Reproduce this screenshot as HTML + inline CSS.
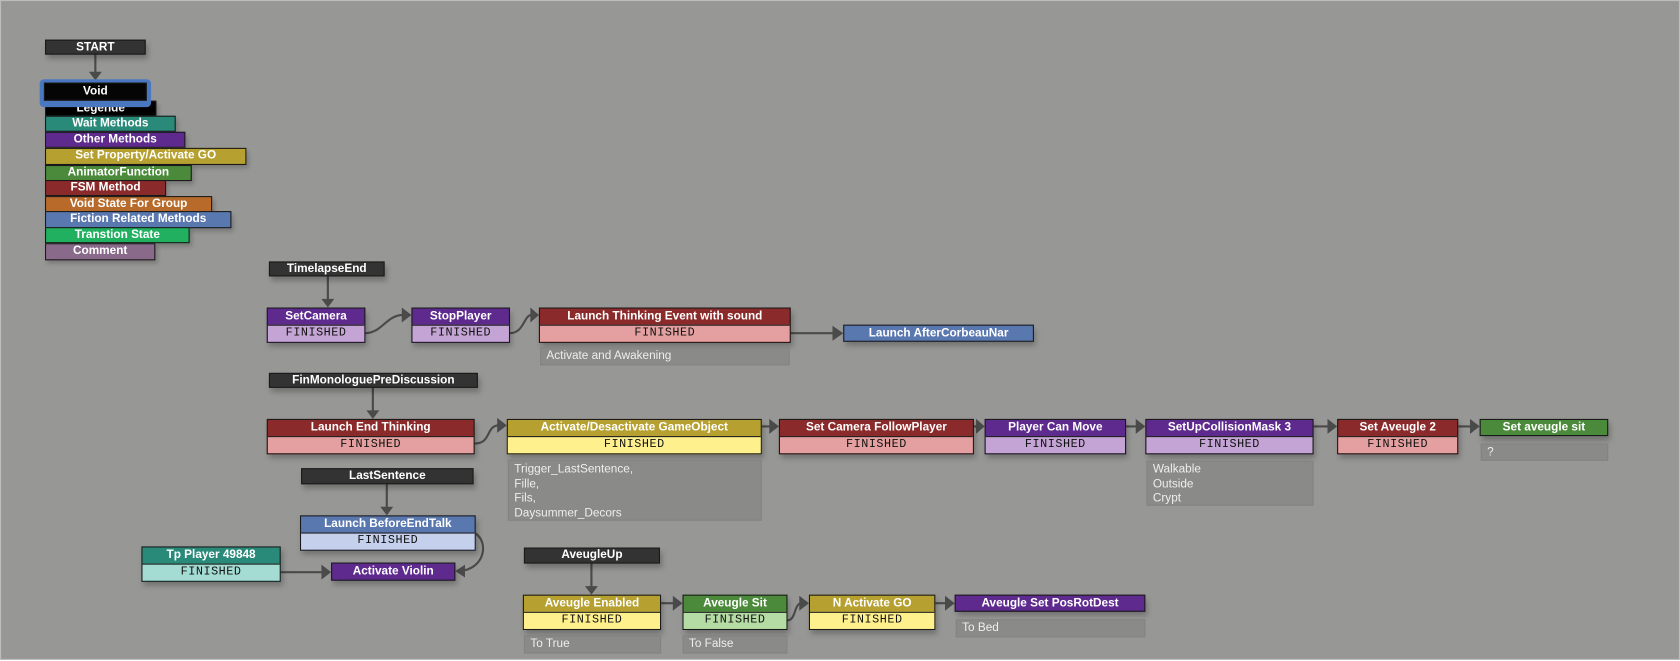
<!DOCTYPE html>
<html><head><meta charset="utf-8"><style>
html,body{margin:0;padding:0;width:1680px;height:660px;overflow:hidden;background:#fff;}
#wrap{position:absolute;left:0;top:0;width:1568px;height:616px;transform:scale(1.07143);transform-origin:0 0;background:#979795;border:1px solid #bdbdbb;box-sizing:border-box;}
.n{position:absolute;font-family:"Liberation Sans",sans-serif;font-weight:bold;font-size:11px;color:#fff;text-align:center;box-sizing:border-box;border:1px solid #1a1a1a;line-height:13px;box-shadow:2px 4px 5px rgba(0,0,0,0.25);}
.t{height:15px;line-height:14px;}
.f{height:15px;line-height:14px;border-top:1px solid #1a1a1a;color:#111;font-weight:normal;font-family:"Liberation Mono",monospace;font-size:11px;letter-spacing:0.5px;}
.c{position:absolute;background:#8a8a88;border:1px solid #838381;color:#eee;font-family:"Liberation Sans",sans-serif;font-size:11px;line-height:13.5px;padding:1px 5px;box-sizing:border-box;}
.l{position:absolute;left:41px;height:15px;font-family:"Liberation Sans",sans-serif;font-weight:bold;font-size:11px;color:#fff;box-sizing:border-box;border:1px solid #1a1a1a;line-height:13px;text-align:center;box-shadow:2px 3px 4px rgba(0,0,0,0.2);}
svg{position:absolute;left:0;top:0;}
</style></head><body><div id="wrap">
<svg width="1568" height="616">
<g stroke="#4a4a4a" stroke-width="2" fill="none">
<path d="M88 49 V70"/><path d="M305 256 V280"/><path d="M347 361 V384"/><path d="M360 450 V474"/><path d="M551 524 V548"/>
<path d="M340 310 C355 310,360 293,375 293"/><path d="M475 310 C488 310,488 293,495 293"/>
<path d="M737 310 H778"/><path d="M442 413 C458 413,452 396,465 396"/>
<path d="M710 397 H719"/><path d="M908 397 H911"/><path d="M1050 397 H1061"/><path d="M1225 397 H1240"/><path d="M1360 397 H1373"/>
<path d="M261 533 H300"/><path d="M443 497 C455 505,452 530,428 532"/>
<path d="M616 562 H629"/><path d="M734 578 C742 578,740 562,747 562"/><path d="M872 562 H883"/>
</g>
<g fill="#4a4a4a">
<path d="M82 66 L94 66 L88 74Z"/><path d="M299 278 L311 278 L305 286Z"/><path d="M341 382 L353 382 L347 390Z"/><path d="M354 472 L366 472 L360 480Z"/><path d="M545 546 L557 546 L551 554Z"/>
<path d="M374 286 L383 293 L374 300Z"/><path d="M494 286 L502 293 L494 300Z"/><path d="M776 303 L786 310 L776 317Z"/>
<path d="M463 389 L472 396 L463 403Z"/><path d="M717 390 L726 397 L717 404Z"/><path d="M910 390 L918 397 L910 404Z"/><path d="M1059 390 L1068 397 L1059 404Z"/><path d="M1238 390 L1247 397 L1238 404Z"/><path d="M1371 390 L1380 397 L1371 404Z"/>
<path d="M299 526 L308 533 L299 540Z"/><path d="M433 526 L424 532 L433 538Z"/>
<path d="M627 555 L636 562 L627 569Z"/><path d="M745 555 L754 562 L745 569Z"/><path d="M881 555 L890 562 L881 569Z"/>
</g>
</svg>

<div class="n" style="left:41px;top:36px;width:94px;height:14px;background:#333;line-height:12px">START</div>
<div class="l" style="top:93px;width:104px;background:#000;">Legende</div>
<div style="position:absolute;left:36px;top:73px;width:104px;height:26px;border:3px solid #4a78c0;border-radius:4px;box-sizing:border-box;background:#4a78c0"></div>
<div class="n" style="left:40px;top:76px;width:96px;height:17px;background:#050505;line-height:15px;box-shadow:none">Void</div>
<div class="l" style="top:107px;width:122px;background:#2a8a7a;">Wait Methods</div>
<div class="l" style="top:122px;width:131px;background:#5e2a8e;">Other Methods</div>
<div class="l" style="top:137px;width:188px;height:16px;background:#b5a030;">Set Property/Activate GO</div>
<div class="l" style="top:153px;width:137px;background:#4a8a3a;">AnimatorFunction</div>
<div class="l" style="top:167px;width:113px;background:#8a2a2a;">FSM Method</div>
<div class="l" style="top:182px;width:156px;background:#b86a2a;">Void State For Group</div>
<div class="l" style="top:196px;width:174px;height:16px;background:#5a78b0;">Fiction Related Methods</div>
<div class="l" style="top:211px;width:135px;background:#20b060;">Transtion State</div>
<div class="l" style="top:226px;width:103px;height:16px;background:#8a6a8a;">Comment</div>

<div class="n" style="left:250px;top:243px;width:108px;height:14px;background:#333;line-height:12px">TimelapseEnd</div>
<div class="n" style="left:248px;top:286px;width:92px;background:#5e2a8e"><div class="t">SetCamera</div><div class="f" style="background:#c4a4d4">FINISHED</div></div>
<div class="n" style="left:383px;top:286px;width:92px;background:#5e2a8e"><div class="t">StopPlayer</div><div class="f" style="background:#c4a4d4">FINISHED</div></div>
<div class="n" style="left:502px;top:286px;width:235px;background:#8a2a2a"><div class="t">Launch Thinking Event with sound</div><div class="f" style="background:#e4a0a0">FINISHED</div></div>
<div class="c" style="left:503px;top:323px;width:233px;height:17px">Activate and Awakening</div>
<div class="n" style="left:786px;top:302px;width:178px;height:16px;background:#5a78b0;line-height:14px">Launch AfterCorbeauNar</div>

<div class="n" style="left:250px;top:347px;width:195px;height:14px;background:#333;line-height:12px">FinMonologuePreDiscussion</div>
<div class="n" style="left:248px;top:390px;width:194px;background:#8a2a2a"><div class="t">Launch End Thinking</div><div class="f" style="background:#e4a0a0">FINISHED</div></div>
<div class="n" style="left:472px;top:390px;width:238px;background:#b5a030"><div class="t">Activate/Desactivate GameObject</div><div class="f" style="background:#fff08e">FINISHED</div></div>
<div class="c" style="left:473px;top:428px;width:237px;height:57px;padding-top:2px">Trigger_LastSentence,<br>Fille,<br>Fils,<br>Daysummer_Decors</div>
<div class="n" style="left:726px;top:390px;width:182px;background:#8a2a2a"><div class="t">Set Camera FollowPlayer</div><div class="f" style="background:#e4a0a0">FINISHED</div></div>
<div class="n" style="left:918px;top:390px;width:132px;background:#5e2a8e"><div class="t">Player Can Move</div><div class="f" style="background:#c4a4d4">FINISHED</div></div>
<div class="n" style="left:1068px;top:390px;width:157px;background:#5e2a8e"><div class="t">SetUpCollisionMask 3</div><div class="f" style="background:#c4a4d4">FINISHED</div></div>
<div class="c" style="left:1069px;top:429px;width:156px;height:42px;padding-top:1px">Walkable<br>Outside<br>Crypt</div>
<div class="n" style="left:1247px;top:390px;width:113px;background:#8a2a2a"><div class="t">Set Aveugle 2</div><div class="f" style="background:#e4a0a0">FINISHED</div></div>
<div class="n" style="left:1380px;top:390px;width:120px;height:16px;background:#4a8a3a;line-height:14px">Set aveugle sit</div>
<div class="c" style="left:1381px;top:413px;width:119px;height:16px">?</div>

<div class="n" style="left:280px;top:436px;width:161px;height:15px;background:#333;line-height:13px">LastSentence</div>
<div class="n" style="left:279px;top:480px;width:164px;background:#5a78b0"><div class="t">Launch BeforeEndTalk</div><div class="f" style="background:#c4d0ec">FINISHED</div></div>
<div class="n" style="left:131px;top:509px;width:130px;background:#2a8a7a"><div class="t">Tp Player 49848</div><div class="f" style="background:#a4dcd4">FINISHED</div></div>
<div class="n" style="left:308px;top:524px;width:116px;height:17px;background:#5e2a8e;line-height:15px">Activate Violin</div>

<div class="n" style="left:488px;top:510px;width:127px;height:15px;background:#333;line-height:13px">AveugleUp</div>
<div class="n" style="left:487px;top:554px;width:129px;background:#b5a030"><div class="t">Aveugle Enabled</div><div class="f" style="background:#fff08e">FINISHED</div></div>
<div class="n" style="left:636px;top:554px;width:98px;background:#4a8a3a"><div class="t">Aveugle Sit</div><div class="f" style="background:#b4dca4">FINISHED</div></div>
<div class="n" style="left:754px;top:554px;width:118px;background:#b5a030"><div class="t">N Activate GO</div><div class="f" style="background:#fff08e">FINISHED</div></div>
<div class="n" style="left:890px;top:554px;width:178px;height:16px;background:#5e2a8e;line-height:14px">Aveugle Set PosRotDest</div>
<div class="c" style="left:891px;top:577px;width:177px;height:17px">To Bed</div>
<div class="c" style="left:488px;top:592px;width:128px;height:17px">To True</div>
<div class="c" style="left:636px;top:592px;width:98px;height:17px">To False</div>
</div></body></html>
